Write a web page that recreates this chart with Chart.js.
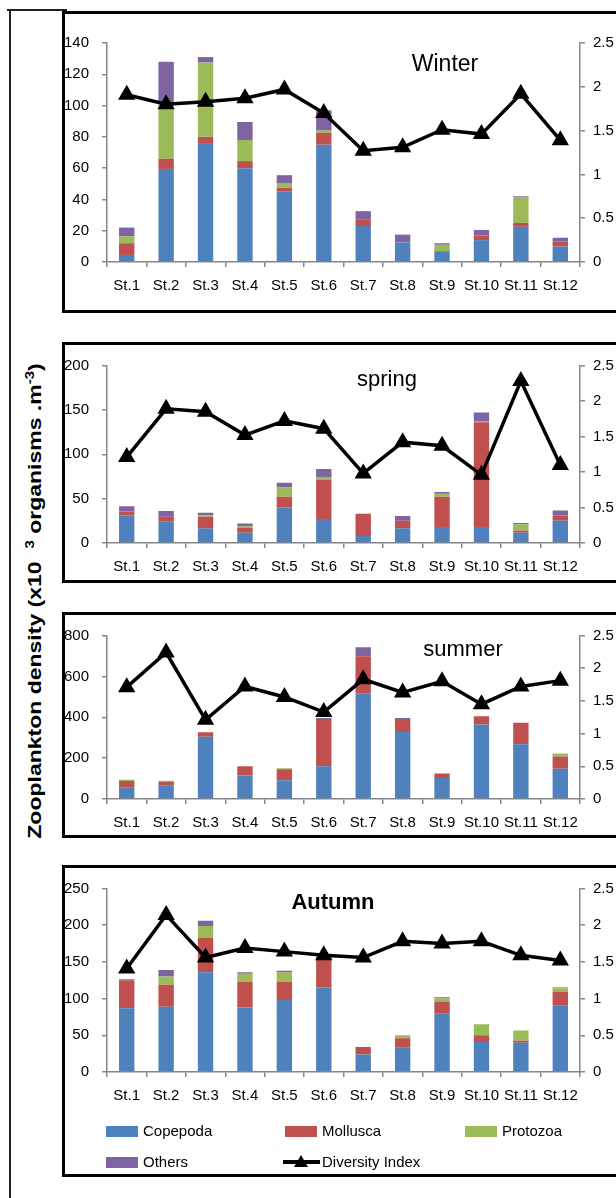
<!DOCTYPE html>
<html><head><meta charset="utf-8">
<script src="https://cdn.jsdelivr.net/npm/chart.js@4.4.0/dist/chart.umd.min.js"></script>
<style>
html,body{margin:0;padding:0;background:#fff;width:616px;height:1198px;overflow:hidden;position:relative;font-family:"Liberation Sans",Arial,sans-serif;}
.frameV{position:absolute;left:9px;top:9px;width:2px;height:1189px;background:#222;}
.frameH{position:absolute;left:7px;top:9px;width:60px;height:2px;background:#222;}
.box{position:absolute;left:62px;width:600px;border:3px solid #000;box-sizing:border-box;}
canvas{position:absolute;left:65px;}
.ytitle{position:absolute;left:34px;top:601px;transform:translate(-50%,-50%) rotate(-90deg) scaleY(0.8);white-space:nowrap;font-weight:bold;font-size:23px;color:#000;font-family:"Liberation Sans",Arial,sans-serif;}
.ytitle sup{font-size:15px;vertical-align:9px;}
.lg{position:absolute;font-size:15px;color:#000;white-space:nowrap;line-height:18px;}
.sw{position:absolute;width:32px;height:11px;}
.lgline{position:absolute;width:37px;height:4px;background:#000;}
.lgtri{position:absolute;width:0;height:0;border-left:7px solid transparent;border-right:7px solid transparent;border-bottom:12px solid #000;}
</style>
</head>
<body>
<div class="frameV"></div><div class="frameH"></div>
<div class="box" style="top:11px;height:302px"></div>
<div class="box" style="top:342px;height:241px"></div>
<div class="box" style="top:612px;height:226px"></div>
<div class="box" style="top:865px;height:312px"></div>
<canvas id="cWinter" width="560" height="296" style="top:14px"></canvas>
<canvas id="cSpring" width="560" height="235" style="top:345px"></canvas>
<canvas id="cSummer" width="560" height="220" style="top:615px"></canvas>
<canvas id="cAutumn" width="560" height="306" style="top:868px"></canvas>
<div class="ytitle">Zooplankton density (x10 &nbsp;<sup>3</sup> organisms .m<sup>-3</sup>)</div>
<div id="legend"></div>
<script>
// ---- data ----
const stations = ['St.1','St.2','St.3','St.4','St.5','St.6','St.7','St.8','St.9','St.10','St.11','St.12'];
const seriesNames = ['Copepoda','Mollusca','Protozoa','Others'];
const diversityLabel = 'Diversity Index';

const winterCopepoda = [4.5, 59.5, 75.5, 60, 45, 75, 23, 12.5, 6.5, 14, 22.5, 10];
const winterMollusca = [7.5, 6.5, 4.5, 4.5, 2.5, 7.5, 4, 0, 0.5, 3, 2.5, 3];
const winterProtozoa = [4.5, 35, 47.5, 13.5, 3, 1.5, 0, 0, 4, 0, 16.5, 0];
const winterOthers   = [5.5, 27, 3.5, 11.5, 5, 13, 5.5, 5, 1, 3.5, 0.5, 2.5];
const winterDiversity = [1.91, 1.80, 1.83, 1.87, 1.97, 1.70, 1.27, 1.31, 1.51, 1.46, 1.92, 1.39];

const springCopepoda = [31, 24, 16.5, 11.5, 40, 27, 8, 16.5, 18, 18, 11.5, 25];
const springMollusca = [4.5, 5.5, 13, 6, 12, 44, 25, 8.5, 34, 118, 2.5, 6];
const springProtozoa = [0, 0, 1.5, 1.5, 10.5, 3.5, 0, 0, 3.5, 1.5, 7, 0];
const springOthers   = [6, 6.5, 3, 3, 5.5, 9, 0, 5.5, 2, 9.5, 1.5, 5.5];
const springDiversity = [1.21, 1.89, 1.85, 1.52, 1.72, 1.61, 0.98, 1.42, 1.37, 0.96, 2.28, 1.10];

const summerCopepoda = [58, 65, 305, 115, 92, 160, 518, 328, 103, 365, 268, 148];
const summerMollusca = [30, 18, 22, 45, 53, 232, 180, 64, 22, 40, 105, 60];
const summerProtozoa = [6, 6, 0, 0, 5, 0, 0, 0, 0, 0, 0, 15];
const summerOthers   = [0, 0, 0, 0, 0, 4, 45, 4, 0, 0, 0, 0];
const summerDiversity = [1.71, 2.24, 1.21, 1.72, 1.56, 1.33, 1.83, 1.63, 1.80, 1.45, 1.72, 1.81];

const autumnCopepoda = [87, 89, 136, 88, 98, 115, 24, 33, 80, 41, 40, 91];
const autumnMollusca = [38, 30, 47, 35, 25, 40, 10, 13, 16, 9, 2.5, 18];
const autumnProtozoa = [0, 11, 16, 11, 13, 0, 0, 4, 4, 15, 14, 5];
const autumnOthers   = [1.5, 9, 7, 2, 2, 2, 0, 0, 2, 0, 0, 1];
const autumnDiversity = [1.41, 2.14, 1.56, 1.69, 1.64, 1.59, 1.56, 1.78, 1.75, 1.78, 1.59, 1.52];

// ---- style ----
const seriesColors = ['#4F81BD','#C0504D','#9BBB59','#8064A2'];
const axisGrey = '#868686';

const panelTitle = {
  id: 'panelTitle',
  afterDatasetsDraw(chart, args, o) {
    if (!o || !o.text) return;
    const ctx = chart.ctx;
    ctx.save();
    ctx.font = o.font;
    ctx.fillStyle = '#000';
    ctx.textAlign = 'center';
    ctx.textBaseline = 'middle';
    ctx.fillText(o.text, o.x, o.y);
    ctx.restore();
  }
};

function axisCommon() {
  return {
    grid: {display: true, drawOnChartArea: false, drawTicks: true, tickLength: 5, color: axisGrey, lineWidth: 1.5},
    border: {display: true, color: axisGrey, width: 1.5}
  };
}

function buildPanel(id, cop, mol, pro, oth, div, yMax, yStep, geo, title) {
  const bars = [cop, mol, pro, oth].map((arr, i) => ({
    type: 'bar', label: seriesNames[i], data: arr, backgroundColor: seriesColors[i],
    yAxisID: 'y', stack: 's', order: 2, barPercentage: 0.39, categoryPercentage: 1, borderWidth: 0
  }));
  const line = {
    type: 'line', label: diversityLabel, data: div, yAxisID: 'y1',
    borderColor: '#000', backgroundColor: '#000', borderWidth: 3.5,
    pointStyle: 'triangle', pointRadius: 6.5, pointBackgroundColor: '#000', pointBorderColor: '#000',
    tension: 0, order: 0
  };
  const xa = axisCommon(); const ya = axisCommon(); const y1a = axisCommon();
  return new Chart(document.getElementById(id), {
    data: {labels: stations, datasets: [...bars, line]},
    options: {
      responsive: false, animation: false, events: [],
      layout: {padding: {top: geo.padTop, bottom: geo.padBottom || 0, left: 0, right: 0}},
      plugins: {legend: {display: false}, tooltip: {enabled: false}, panelTitle: title},
      scales: {
        x: Object.assign(xa, {
          stacked: true, offset: true,
          grid: Object.assign(xa.grid, {offset: true}),
          ticks: {color: '#000', font: {family: 'Liberation Sans', size: 15}, padding: geo.xPad, maxRotation: 0, autoSkip: false},
          afterFit(s) { s.height = geo.xHeight; }
        }),
        y: Object.assign(ya, {
          stacked: true, position: 'left', min: 0, max: yMax,
          ticks: {stepSize: yStep, color: '#000', font: {family: '"Liberation Sans Narrow","Liberation Sans"', size: 15, lineHeight: 1}, padding: 13},
          afterFit(s) { s.width = 42; }
        }),
        y1: Object.assign(y1a, {
          stacked: false, position: 'right', min: 0, max: 2.5,
          ticks: {stepSize: 0.5, color: '#000', font: {family: 'Liberation Sans', size: 15, lineHeight: 1}, padding: 8,
                  callback: (v) => String(Math.round(v * 10) / 10)},
          afterFit(s) { s.width = 45; }
        })
      }
    },
    plugins: [panelTitle]
  });
}

buildPanel('cWinter', winterCopepoda, winterMollusca, winterProtozoa, winterOthers, winterDiversity, 140, 20,
  {padTop: 29, xHeight: 48, xPad: 10}, {text: 'Winter', x: 380, y: 51, font: '23px "Liberation Sans"'});
buildPanel('cSpring', springCopepoda, springMollusca, springProtozoa, springOthers, springDiversity, 200, 50,
  {padTop: 7, xHeight: 37, xPad: 10}, {text: 'spring', x: 322, y: 35, font: '22px "Liberation Sans"'});
buildPanel('cSummer', summerCopepoda, summerMollusca, summerProtozoa, summerOthers, summerDiversity, 800, 200,
  {padTop: 8, xHeight: 36, xPad: 10}, {text: 'summer', x: 398, y: 35, font: '22px "Liberation Sans"'});
buildPanel('cAutumn', autumnCopepoda, autumnMollusca, autumnProtozoa, autumnOthers, autumnDiversity, 250, 50,
  {padTop: 8, padBottom: 54, xHeight: 48, xPad: 10}, {text: 'Autumn', x: 268, y: 35, font: 'bold 22px "Liberation Sans"'});

// ---- legend (HTML, from series names/colors) ----
const legendSlots = [[106, 1131], [285, 1131], [465, 1131], [106, 1162]];
const lg = document.getElementById('legend');
seriesNames.forEach((name, i) => {
  const [x, y] = legendSlots[i];
  const sw = document.createElement('div'); sw.className = 'sw';
  sw.style.left = x + 'px'; sw.style.top = (y - 5) + 'px'; sw.style.background = seriesColors[i];
  const t = document.createElement('div'); t.className = 'lg'; t.textContent = name;
  t.style.left = (x + 37) + 'px'; t.style.top = (y - 9) + 'px';
  lg.appendChild(sw); lg.appendChild(t);
});
(function () {
  const x = 283, y = 1162;
  const l = document.createElement('div'); l.className = 'lgline'; l.style.left = x + 'px'; l.style.top = (y - 2) + 'px';
  const tr = document.createElement('div'); tr.className = 'lgtri'; tr.style.left = (x + 11) + 'px'; tr.style.top = (y - 7) + 'px';
  const t = document.createElement('div'); t.className = 'lg'; t.textContent = diversityLabel;
  t.style.left = (x + 39) + 'px'; t.style.top = (y - 9) + 'px';
  lg.appendChild(l); lg.appendChild(tr); lg.appendChild(t);
})();
</script>
</body></html>
